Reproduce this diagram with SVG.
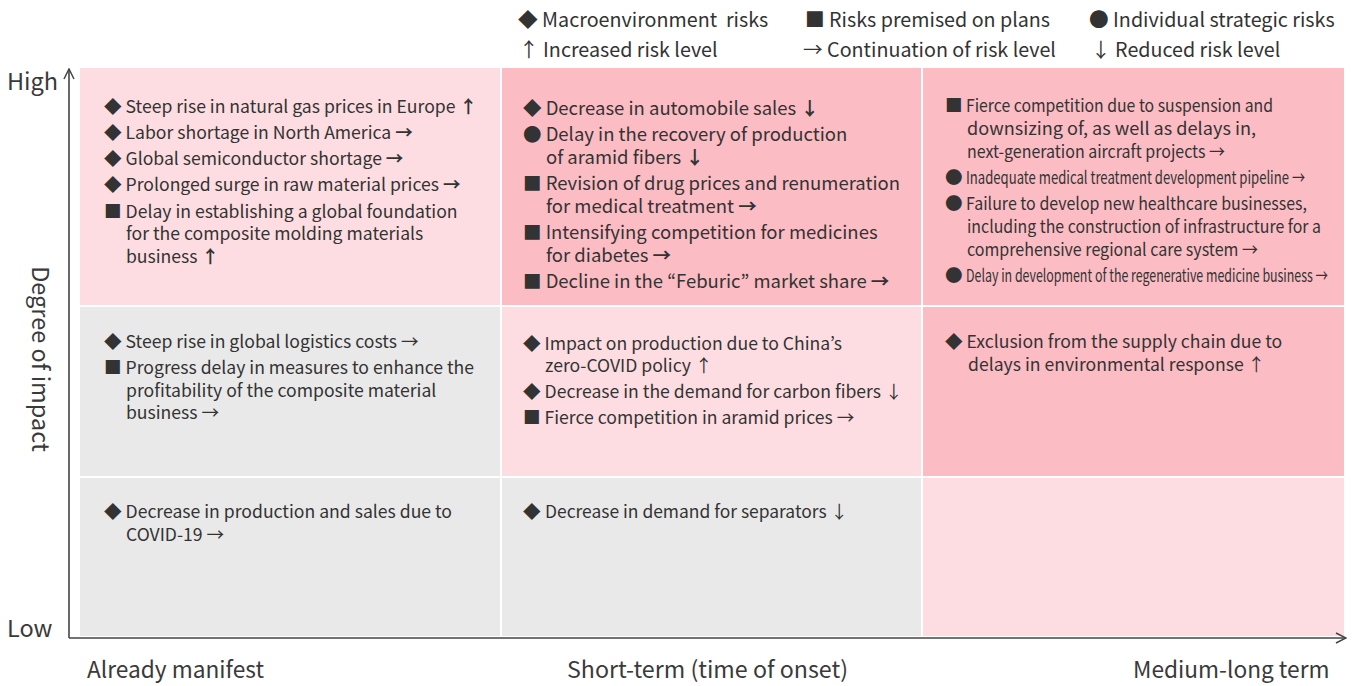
<svg xmlns="http://www.w3.org/2000/svg" width="1354" height="686" viewBox="0 0 1354 686">
<defs>
<style>
text{font-family:"Noto Sans CJK JP","Noto Sans",sans-serif;fill:#333;}
.t{font-size:17.6px;}
.tm{font-size:18.5px;}
.lg{font-size:19.7px;}
.ax{font-size:22.7px;fill:#3a3a3a;}
.hl{font-size:23.5px;fill:#3a3a3a;}
.light{fill:#fddde1;}
.dark{fill:#fcbcc4;}
.gray{fill:#e9e9e9;}
.axis{stroke:#444;stroke-width:1.6;fill:none;}
.b{font-weight:700;}
</style>
<marker id="chev" viewBox="0 0 12 12" refX="11" refY="6" markerWidth="12" markerHeight="12" markerUnits="userSpaceOnUse" orient="auto">
<path d="M1,1 L11,6 L1,11" fill="none" stroke="#444" stroke-width="1.5"/>
</marker>
</defs>
<rect width="1354" height="686" fill="#fff"/>

<g id="legend" class="lg">
<text x="518" y="27" xml:space="preserve">◆ Macroenvironment  risks</text>
<text x="805" y="27">■ Risks premised on plans</text>
<text x="1089" y="27">● Individual strategic risks</text>
<text x="519" y="57">↑ Increased risk level</text>
<text x="803" y="57">→ Continuation of risk level</text>
<text x="1091" y="57">↓ Reduced risk level</text>
</g>

<g id="cells">
<rect class="light" x="80" y="68" width="420" height="237"/>
<rect class="dark" x="502" y="68" width="419" height="237"/>
<rect class="dark" x="923" y="68" width="421" height="237"/>
<rect class="gray" x="80" y="307" width="420" height="169"/>
<rect class="light" x="502" y="307" width="419" height="169"/>
<rect class="dark" x="923" y="307" width="421" height="169"/>
<rect class="gray" x="80" y="478" width="420" height="158"/>
<rect class="gray" x="502" y="478" width="419" height="158"/>
<rect class="light" x="923" y="478" width="421" height="158"/>
</g>

<g id="cell-high-manifest" class="t">
<text x="104" y="113">◆ Steep rise in natural gas prices in Europe <tspan class="b">↑</tspan></text>
<text x="104" y="139">◆ Labor shortage in North America <tspan class="b">→</tspan></text>
<text x="104" y="165">◆ Global semiconductor shortage <tspan class="b">→</tspan></text>
<text x="104" y="191">◆ Prolonged surge in raw material prices <tspan class="b">→</tspan></text>
<text x="104" y="218">■ Delay in establishing a global foundation</text>
<text x="126" y="240">for the composite molding materials</text>
<text x="126" y="263">business <tspan class="b">↑</tspan></text>
</g>

<g id="cell-high-short" class="tm">
<text x="523" y="115">◆ Decrease in automobile sales <tspan class="b">↓</tspan></text>
<text x="523" y="141">● Delay in the recovery of production</text>
<text x="546" y="164">of aramid fibers <tspan class="b">↓</tspan></text>
<text x="523" y="190">■ Revision of drug prices and renumeration</text>
<text x="546" y="213">for medical treatment <tspan class="b">→</tspan></text>
<text x="523" y="239">■ Intensifying competition for medicines</text>
<text x="546" y="262">for diabetes <tspan class="b">→</tspan></text>
<text x="523" y="288">■ Decline in the “Feburic” market share <tspan class="b">→</tspan></text>
</g>

<g id="cell-high-medium" class="t">
<text x="945" y="112">■</text>
<text x="966" y="112" textLength="307" lengthAdjust="spacingAndGlyphs">Fierce competition due to suspension and</text>
<text x="967" y="135" textLength="289" lengthAdjust="spacingAndGlyphs">downsizing of, as well as delays in,</text>
<text x="967" y="158" textLength="258" lengthAdjust="spacingAndGlyphs">next-generation aircraft projects →</text>
<text x="945" y="184">●</text>
<text x="966" y="184" textLength="339" lengthAdjust="spacingAndGlyphs">Inadequate medical treatment development pipeline →</text>
<text x="945" y="210">●</text>
<text x="966" y="210" textLength="341" lengthAdjust="spacingAndGlyphs">Failure to develop new healthcare businesses,</text>
<text x="967" y="233" textLength="354" lengthAdjust="spacingAndGlyphs">including the construction of infrastructure for a</text>
<text x="967" y="256" textLength="291" lengthAdjust="spacingAndGlyphs">comprehensive regional care system →</text>
<text x="945" y="282">●</text>
<text x="966" y="282" textLength="362" lengthAdjust="spacingAndGlyphs">Delay in development of the regenerative medicine business →</text>
</g>

<g id="cell-mid-manifest" class="t">
<text x="104" y="348">◆ Steep rise in global logistics costs →</text>
<text x="104" y="374">■ Progress delay in measures to enhance the</text>
<text x="126" y="397">profitability of the composite material</text>
<text x="126" y="419">business →</text>
</g>

<g id="cell-mid-short" class="t">
<text x="523" y="350">◆ Impact on production due to China’s</text>
<text x="545" y="372">zero-COVID policy ↑</text>
<text x="523" y="398">◆ Decrease in the demand for carbon fibers ↓</text>
<text x="523" y="424">■ Fierce competition in aramid prices →</text>
</g>

<g id="cell-mid-medium" class="t">
<text x="945" y="348">◆ Exclusion from the supply chain due to</text>
<text x="968" y="371">delays in environmental response ↑</text>
</g>

<g id="cell-low-manifest" class="t">
<text x="104" y="518">◆ Decrease in production and sales due to</text>
<text x="126" y="541">COVID-19 →</text>
</g>

<g id="cell-low-short" class="t">
<text x="523" y="518">◆</text>
<text x="545" y="518" textLength="303" lengthAdjust="spacingAndGlyphs">Decrease in demand for separators ↓</text>
</g>

<g id="connectors">
<path class="axis" d="M69,638 L69,69" marker-end="url(#chev)"/>
<path class="axis" d="M69,638 L1346,638" marker-end="url(#chev)"/>
</g>

<g id="axis-labels">
<text class="hl" x="7" y="90">High</text>
<text class="hl" x="7" y="637">Low</text>
<text class="hl" transform="translate(32,359) rotate(90)" text-anchor="middle">Degree of impact</text>
<text class="ax" x="87" y="678">Already manifest</text>
<text class="ax" x="567" y="678" textLength="281" lengthAdjust="spacingAndGlyphs">Short-term (time of onset)</text>
<text class="ax" x="1133" y="678">Medium-long term</text>
</g>
</svg>
